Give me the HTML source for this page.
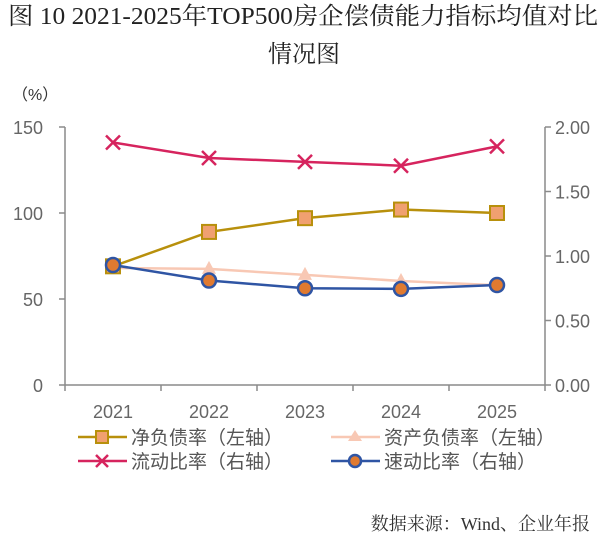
<!DOCTYPE html>
<html><head><meta charset="utf-8"><style>
body{margin:0;background:#fff;width:608px;height:542px;overflow:hidden}
svg text{font-family:"Liberation Sans","Noto Sans CJK SC",sans-serif}
svg text.serif{font-family:"Liberation Serif","Noto Serif CJK SC",serif}
</style></head><body>
<svg width="608" height="542">
<text class="serif" x="8" y="24" textLength="590" lengthAdjust="spacingAndGlyphs" font-size="24" fill="#222">图 10 2021-2025年TOP500房企偿债能力指标均值对比</text>
<text class="serif" x="304" y="62" text-anchor="middle" font-size="24" fill="#222">情况图</text>
<text x="12" y="100" font-size="16" fill="#333">（%）</text>
<g id="axes"></g><g id="marks"></g>
<text class="serif" x="590" y="530" text-anchor="end" font-size="18" fill="#333">数据来源：Wind、企业年报</text>
</svg>
<script>
const categories=["2021","2022","2023","2024","2025"];
const netDebt=[69,89,97,102,100];
const assetLiab=[68,67.5,64,60.5,58];
const currentRatio=[1.88,1.76,1.73,1.70,1.85];
const quickRatio=[0.93,0.81,0.75,0.745,0.775];
const leftTicks=[0,50,100,150];
const rightTicks=["0.00","0.50","1.00","1.50","2.00"];
const NS="http://www.w3.org/2000/svg";
const x0=65,x1=545,yB=385,yT=127;
const xs=i=>x0+(x1-x0)/categories.length*(i+0.5);
const yl=v=>yB-(v/150)*(yB-yT);
const yr=v=>yB-(v/2)*(yB-yT);
function mk(t,a,p){const e=document.createElementNS(NS,t);for(const k in a)e.setAttribute(k,a[k]);(p||document.getElementById('marks')).appendChild(e);return e;}
const ax=document.getElementById('axes');
let e=mk('line',{x1:x0,y1:yT,x2:x0,y2:yB,stroke:'#8a8a8a','stroke-width':1.5},ax);

e=mk('line',{x1:x1,y1:yT,x2:x1,y2:yB,stroke:'#8a8a8a','stroke-width':1.5},ax);

e=mk('line',{x1:x0,y1:yB,x2:x1,y2:yB,stroke:'#8a8a8a','stroke-width':1.5},ax);

leftTicks.forEach(v=>{mk('line',{x1:x0-6,y1:yl(v),x2:x0,y2:yl(v),stroke:'#8a8a8a','stroke-width':1.5},ax);
 const t=mk('text',{x:x0-22,y:yl(v)+7,'text-anchor':'end','font-size':18,fill:'#666'},ax);t.textContent=v;
 });
rightTicks.forEach(v=>{const y=yr(parseFloat(v));mk('line',{x1:x1,y1:y,x2:x1+6,y2:y,stroke:'#8a8a8a','stroke-width':1.5},ax);
 const t=mk('text',{x:x1+10,y:y+7,'font-size':18,fill:'#666'},ax);t.textContent=v;
 });
for(let i=0;i<=categories.length;i++){const x=x0+(x1-x0)/categories.length*i;mk('line',{x1:x,y1:yB,x2:x,y2:yB+6,stroke:'#8a8a8a','stroke-width':1.5},ax);}
categories.forEach((c,i)=>{const t=mk('text',{x:xs(i),y:yB+33,'text-anchor':'middle','font-size':18,fill:'#666'},ax);t.textContent=c;
 });
function line(vals,f,col,name){const l=mk('polyline',{points:vals.map((v,i)=>xs(i)+','+f(v)).join(' '),fill:'none',stroke:col,'stroke-width':2.5});
 }
function sq(x,y,s,p){return mk('rect',{x:x-s,y:y-s,width:2*s,height:2*s,fill:'#f0a070',stroke:'#b8900c','stroke-width':2},p);}
function tri(x,y){return mk('polygon',{points:`${x},${y-8} ${x-7},${y+5} ${x+7},${y+5}`,fill:'#f8c8b4'});}
function cross(x,y,col){return mk('path',{d:`M${x-7},${y-7}L${x+7},${y+7}M${x+7},${y-7}L${x-7},${y+7}`,stroke:col,'stroke-width':2.5});}
function dot(x,y,r,p){return mk('circle',{cx:x,cy:y,r:r||7,fill:'#e07a30',stroke:'#2f55a4','stroke-width':2.5},p);}
line(assetLiab,yl,'#f8c8b4','asset-liability-line');
assetLiab.forEach((v,i)=>{const m=tri(xs(i),yl(v));});
line(netDebt,yl,'#b8900c','net-debt-line');
netDebt.forEach((v,i)=>{const m=sq(xs(i),yl(v),7);});
line(currentRatio,yr,'#d6245e','current-ratio-line');
currentRatio.forEach((v,i)=>{const m=cross(xs(i),yr(v),'#d6245e');});
line(quickRatio,yr,'#2f55a4','quick-ratio-line');
quickRatio.forEach((v,i)=>{const m=dot(xs(i),yr(v));});
const L=[[78,437,'净负债率（左轴）','sq','#b8900c'],[331,437,'资产负债率（左轴）','tri','#f8c8b4'],[78,461,'流动比率（右轴）','x','#d6245e'],[331,461,'速动比率（右轴）','dot','#2f55a4']];
L.forEach(([x,y,txt,k,col])=>{const g=mk('g',{});
 mk('line',{x1:x,y1:y,x2:x+49,y2:y,stroke:col,'stroke-width':2.5},g);
 const cx=x+24;
 if(k==='sq')sq(cx,y,6,g);else if(k==='tri')mk('polygon',{points:`${cx},${y-7} ${cx-7},${y+4} ${cx+7},${y+4}`,fill:'#f8c8b4'},g);else if(k==='x')mk('path',{d:`M${cx-6},${y-6}L${cx+6},${y+6}M${cx+6},${y-6}L${cx-6},${y+6}`,stroke:col,'stroke-width':2.5},g);else dot(cx,y,6,g);
 const t=mk('text',{x:x+53,y:y+7,'font-size':19,fill:'#555'},g);t.textContent=txt;});
</script>
</body></html>
